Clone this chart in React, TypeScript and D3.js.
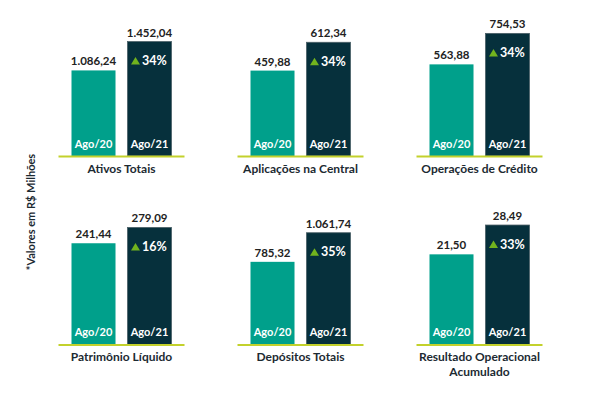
import React from "react";
import * as d3 from "d3";

const panels = [
  "Ativos Totais",
  "Aplicações na Central",
  "Operações de Crédito",
  "Patrimônio Líquido",
  "Depósitos Totais",
  "Resultado Operacional|Acumulado",
];
const periods = ["Ago/20", "Ago/21"];
const valuesAgo20 = [1086.24, 459.88, 563.88, 241.44, 785.32, 21.5];
const valuesAgo21 = [1452.04, 612.34, 754.53, 279.09, 1061.74, 28.49];
const labelsAgo20 = ["1.086,24", "459,88", "563,88", "241,44", "785,32", "21,50"];
const labelsAgo21 = ["1.452,04", "612,34", "754,53", "279,09", "1.061,74", "28,49"];
const growth = ["34%", "34%", "34%", "16%", "35%", "33%"];
const axisMax = [1650, 700, 800, 310, 1235, 31];
const footnote = "*Valores em R$ Milhões";

const W = 600;
const H = 394;
const FONT = "Lato, 'Open Sans', sans-serif";
const TEAL = "#00a08b";
const DARK = "#06303c";
const LINE = "#c3d12c";
const TRI = "#72b31e";
const TEXT = "#1c2a32";

export default function App() {
  const col = d3.scaleBand<number>().domain([0, 1, 2]).range([32, 569]);
  const rowBase = [156, 344.5];
  const barH = 130;

  return (
    <svg width={W} height={H} style={{ position: "absolute", left: 0, top: 0, background: "#fff" }} fontFamily={FONT}>
      <text
        transform={`translate(34.5, 212) rotate(-90)`}
        textAnchor="middle"
        fontSize={11}
        fontWeight={700}
        fill={TEXT}
      >
        {footnote}
      </text>
      {panels.map((title, i) => {
        const c = i % 3;
        const r = Math.floor(i / 3);
        const cx = (col(c) as number) + col.bandwidth() / 2;
        const base = rowBase[r];
        const x = d3.scaleBand<string>().domain(periods).range([cx - 50, cx + 50]).paddingInner(0.214);
        const y = d3.scaleLinear().domain([0, axisMax[i]]).range([base, base - barH]);
        const vals = [valuesAgo20[i], valuesAgo21[i]];
        const labs = [labelsAgo20[i], labelsAgo21[i]];
        const bw = x.bandwidth();
        const titleLines = title.split("|");
        return (
          <g key={i}>
            {periods.map((p, j) => {
              const bx = x(p) as number;
              const top = y(vals[j]);
              const mx = bx + bw / 2;
              return (
                <g key={p}>
                  <rect
                    x={bx}
                    y={top}
                    width={bw}
                    height={base - top}
                    fill={j === 0 ? TEAL : DARK}
                    stroke={j === 1 ? "#4a5f66" : "none"}
                    strokeWidth={j === 1 ? 0.8 : 0}
                  />
                  <text x={mx} y={top - 5} textAnchor="middle" fontSize={11.5} fontWeight={700} fill="#222">
                    {labs[j]}
                  </text>
                  <text x={mx} y={base - 8.5} textAnchor="middle" fontSize={11} fontWeight={700} fill="#fff">
                    {p}
                  </text>
                  {j === 1 && (
                    <g>
                      <path
                        d={`M${mx - 18.5},${top + 23} L${mx - 9.5},${top + 23} L${mx - 14},${top + 15.5} Z`}
                        fill={TRI}
                      />
                      <text x={mx + 5} y={top + 23.5} textAnchor="middle" fontSize={12.5} fontWeight={700} fill="#fff">
                        {growth[i]}
                      </text>
                    </g>
                  )}
                </g>
              );
            })}
            <rect x={cx - 63} y={base - 0.5} width={126} height={2} fill={LINE} />
            {titleLines.map((t, k) => (
              <text
                key={k}
                x={cx}
                y={base + 16.5 + k * 14.5}
                textAnchor="middle"
                fontSize={12}
                fontWeight={700}
                fill={TEXT}
              >
                {t}
              </text>
            ))}
          </g>
        );
      })}
    </svg>
  );
}
